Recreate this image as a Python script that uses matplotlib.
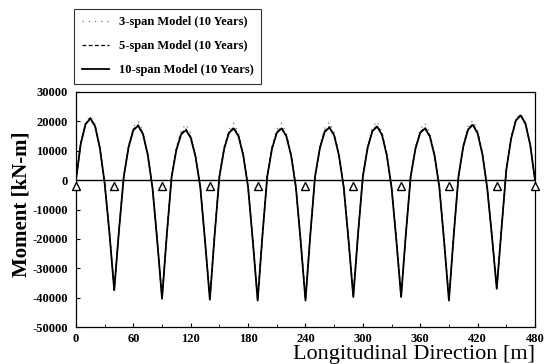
import numpy as np
import matplotlib
matplotlib.use("Agg")
import matplotlib.pyplot as plt
from matplotlib.ticker import MultipleLocator

plt.rcParams['font.family'] = 'Liberation Serif'
plt.rcParams['axes.unicode_minus'] = False

# stations along the bridge [m], every 5 m
station = np.arange(0, 485, 5)

# moment [kN-m]
moment_10span = [
    0, 12400, 19000, 21000, 18300, 10900, -1100, -18000, -37500,
    -17000, 1200, 11200, 17000, 18500, 15700, 8700, -2600, -20700, -40400,
    -18500, 1100, 10300, 15600, 17000, 14400, 8000, -2400, -20900, -40700,
    -18600, 1200, 10700, 16100, 17600, 14900, 8300, -2500, -21000, -41000,
    -18800, 1200, 10700, 16100, 17600, 14900, 8300, -2500, -21000, -41000,
    -18800, 1200, 10800, 16400, 17900, 15200, 8400, -2500, -20400, -39800,
    -18200, 1200, 11000, 16700, 18200, 15400, 8500, -2500, -20400, -39800,
    -18200, 1200, 10700, 16100, 17600, 14900, 8300, -2500, -21000, -41000,
    -18800, 1300, 11400, 17200, 18800, 15900, 8800, -2600, -19200, -37000,
    -16500, 3500, 14100, 20300, 22000, 19200, 12000, 0]

moment_5span = [
    0, 12500, 19200, 21200, 18500, 11000, -1000, -17900, -37300,
    -16900, 1300, 11400, 17300, 18800, 16000, 8900, -2400, -20600, -40200,
    -18400, 1200, 10500, 15900, 17400, 14700, 8200, -2300, -20800, -40500,
    -18500, 1300, 10900, 16400, 17900, 15200, 8500, -2400, -20900, -40800,
    -18700, 1300, 10900, 16400, 17900, 15200, 8500, -2400, -20900, -40800,
    -18700, 1300, 11000, 16700, 18200, 15500, 8600, -2400, -20300, -39600,
    -18100, 1300, 11200, 17000, 18500, 15700, 8700, -2400, -20300, -39600,
    -18100, 1300, 10900, 16400, 17900, 15200, 8500, -2400, -20900, -40800,
    -18700, 1400, 11600, 17500, 19100, 16200, 9000, -2500, -19100, -36800,
    -16400, 3600, 14300, 20500, 22200, 19400, 12100, 0]

moment_3span = [
    0, 12600, 19600, 21800, 19000, 11300, -900, -17800, -37000,
    -16700, 1500, 11900, 18100, 20000, 16800, 9300, -2200, -20300, -39800,
    -18200, 1400, 11200, 17000, 19000, 15800, 8700, -2100, -20500, -40000,
    -18300, 1500, 11600, 17300, 19400, 16000, 8800, -2200, -20600, -40300,
    -18500, 1500, 11600, 17300, 19400, 16000, 8800, -2200, -20600, -40300,
    -18500, 1500, 11700, 17600, 19700, 16300, 8900, -2200, -20000, -39200,
    -17900, 1500, 11900, 17900, 20000, 16500, 9000, -2200, -20000, -39200,
    -17900, 1500, 11600, 17300, 19400, 16000, 8800, -2200, -20600, -40300,
    -18400, 1600, 12200, 18300, 20300, 17000, 9400, -2300, -18900, -36500,
    -16200, 3800, 14600, 20900, 22600, 19800, 12300, 0]

# support locations [m]
supports = [0, 40, 90, 140, 190, 240, 290, 340, 390, 440, 480]

fig = plt.figure(figsize=(5.57, 3.64), dpi=100)
ax = fig.add_axes([0.1364, 0.1016, 0.8241, 0.6457])

l3, = ax.plot(station, moment_3span, color='0.45', lw=0.9, ls=(0, (1, 4)))
l5, = ax.plot(station, moment_5span, color='black', lw=0.9, ls=(0, (3, 2)))
l10, = ax.plot(station, moment_10span, color='black', lw=1.3)
ax.axhline(0, color='black', lw=1.0)
ax.plot(supports, [-2000] * len(supports), '^', ms=6, mfc='white',
        mec='black', mew=1.0, clip_on=False, zorder=5)

ax.set_xlim(0, 480)
ax.set_ylim(-50000, 30000)
ax.set_xticks(range(0, 481, 60))
ax.set_yticks(range(-50000, 30001, 10000))
ax.xaxis.set_minor_locator(MultipleLocator(30))
ax.tick_params(which='both', direction='in', top=False, right=False)
ax.tick_params(which='major', length=3, labelsize=9)
ax.tick_params(axis='x', pad=4)
ax.tick_params(axis='y', pad=6)
ax.tick_params(which='minor', length=2)
for lab in ax.get_xticklabels() + ax.get_yticklabels():
    lab.set_fontweight('bold')
for sp in ax.spines.values():
    sp.set_linewidth(0.9)

fig.text(535 / 557, 1 - 355 / 364, 'Longitudinal Direction [m]',
         ha='right', va='center', fontsize=16)
fig.text(22 / 557, 1 - 204 / 364, 'Moment [kN-m]', rotation=90,
         ha='center', va='center', fontsize=15, fontweight='bold')

leg = fig.legend([l3, l5, l10],
                 ['3-span Model (10 Years)', '5-span Model (10 Years)',
                  '10-span Model (10 Years)'],
                 loc='upper left', bbox_to_anchor=(74 / 557, 1 - 9 / 364),
                 prop={'family': 'Liberation Serif', 'weight': 'bold', 'size': 9},
                 frameon=True, fancybox=False, edgecolor='black',
                 handlelength=2.2, handletextpad=0.8, labelspacing=0.95,
                 borderpad=0.6, borderaxespad=0)
leg.get_frame().set_linewidth(0.8)

fig.savefig('out.png', dpi=100)
